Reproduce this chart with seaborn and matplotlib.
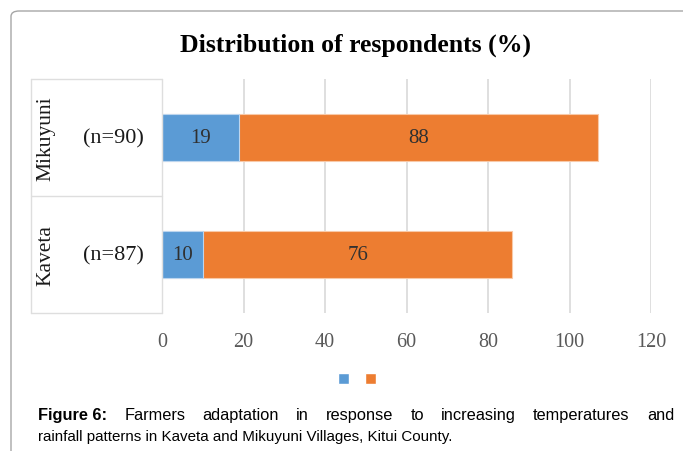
import matplotlib
matplotlib.use("Agg")
import matplotlib.pyplot as plt
from matplotlib.patches import FancyBboxPatch, Patch
from matplotlib.lines import Line2D
import seaborn as sns
import pandas as pd

villages = ["Mikuyuni", "Kaveta"]
sample_sizes = ["(n=90)", "(n=87)"]
blue_values = [19, 10]
orange_values = [88, 76]
x_ticks = [0, 20, 40, 60, 80, 100, 120]
title = "Distribution of respondents (%)"
caption_line1 = ["Figure 6:", "Farmers", "adaptation", "in", "response", "to",
                 "increasing", "temperatures", "and"]
caption_line2 = "rainfall patterns in Kaveta and Mikuyuni Villages, Kitui County."

BLUE = "#5B9BD5"
ORANGE = "#ED7D31"
SERIF = ["Liberation Serif", "DejaVu Serif"]
SANS = ["Liberation Sans", "DejaVu Sans"]

sns.set_style("white")
plt.rcParams["font.family"] = SERIF

df = pd.DataFrame({
    "village": villages,
    "blue": blue_values,
    "orange": orange_values,
})
df["total"] = df["blue"] + df["orange"]

W, H = 683, 452
fig = plt.figure(figsize=(W / 100, H / 100), dpi=100)
ax = fig.add_axes([162 / W, 1 - 314 / H, (651 - 162) / W, (314 - 80) / H])

sns.barplot(data=df, y="village", x="total", order=villages, color=ORANGE,
            width=0.4, edgecolor="#f8c9a8", linewidth=0.8, saturation=1, ax=ax)
sns.barplot(data=df, y="village", x="blue", order=villages, color=BLUE,
            width=0.4, edgecolor="#bcd5ee", linewidth=0.8, saturation=1, ax=ax)

ax.set_xlim(0, 120)
ax.set_xticks(x_ticks)
ax.set_xticklabels([str(t) for t in x_ticks], fontsize=14.5, color="#595959")
ax.tick_params(axis="x", length=0, pad=14)
ax.set_yticks([])
ax.set_xlabel("")
ax.set_ylabel("")
for sp in ax.spines.values():
    sp.set_visible(False)
ax.grid(axis="x", color="#d9d9d9", linewidth=1.2)
ax.set_axisbelow(True)

# value labels in the middle of each segment
for i, (b, o) in enumerate(zip(blue_values, orange_values)):
    ax.text(b / 2, i, str(b), ha="center", va="center", fontsize=15, color="#303030")
    ax.text(b + o / 2, i, str(o), ha="center", va="center", fontsize=15, color="#303030")

# category label table on the left
tleft = (31 - 162) / (651 - 162)
lc = "#dedede"
for y in (0, 0.5, 1):
    ax.add_line(Line2D([tleft, 0], [y, y], transform=ax.transAxes, color=lc,
                       lw=1.0, clip_on=False))
for x in (tleft, 0):
    ax.add_line(Line2D([x, x], [0, 1], transform=ax.transAxes, color=lc,
                       lw=1.0, clip_on=False))
xv = (46 - 162) / (651 - 162)
xn = (113 - 162) / (651 - 162)
for i, (v, n) in enumerate(zip(villages, sample_sizes)):
    yc = 0.75 - 0.5 * i
    ax.text(xv, yc, v, transform=ax.transAxes, rotation=90, ha="center",
            va="center", fontsize=15.5, color="#1a1a1a")
    ax.text(xn, yc, n, transform=ax.transAxes, ha="center", va="center",
            fontsize=16, color="#1a1a1a")

fig.text(356 / W, 1 - 45 / H, title, ha="center", va="center", fontsize=18.5,
         fontweight="bold", color="black")

handles = [Patch(facecolor=BLUE), Patch(facecolor=ORANGE)]
fig.legend(handles, ["", ""], loc="center", bbox_to_anchor=(357 / W, 1 - 381 / H),
           ncol=2, frameon=False, handlelength=0.8, handleheight=0.8,
           handletextpad=0.0, columnspacing=1.2)

# rounded outer frame running off the right and bottom edges
frame = FancyBboxPatch((11 / W, -0.2), 1.2, 1 - 12 / H + 0.2,
                       boxstyle="round,pad=0,rounding_size=0.012",
                       transform=fig.transFigure, fill=False,
                       edgecolor="#a6a6a6", linewidth=1.0)
fig.add_artist(frame)

# caption, first line justified
fig.canvas.draw()
renderer = fig.canvas.get_renderer()
x0, x1 = 38, 674
y1 = 1 - 416 / H
words = []
for k, w in enumerate(caption_line1):
    t = fig.text(0, y1, w, family=SANS, fontsize=11.8,
                 fontweight="bold" if k == 0 else "normal", va="center", color="black")
    words.append(t)
widths = [t.get_window_extent(renderer).width for t in words]
gap = (x1 - x0 - sum(widths)) / (len(words) - 1)
pos = x0
for t, wd in zip(words, widths):
    t.set_x(pos / W)
    pos += wd + gap
fig.text(x0 / W, 1 - 437 / H, caption_line2, family=SANS, fontsize=10.9,
         va="center", color="black")

fig.savefig("out.png", dpi=100)
